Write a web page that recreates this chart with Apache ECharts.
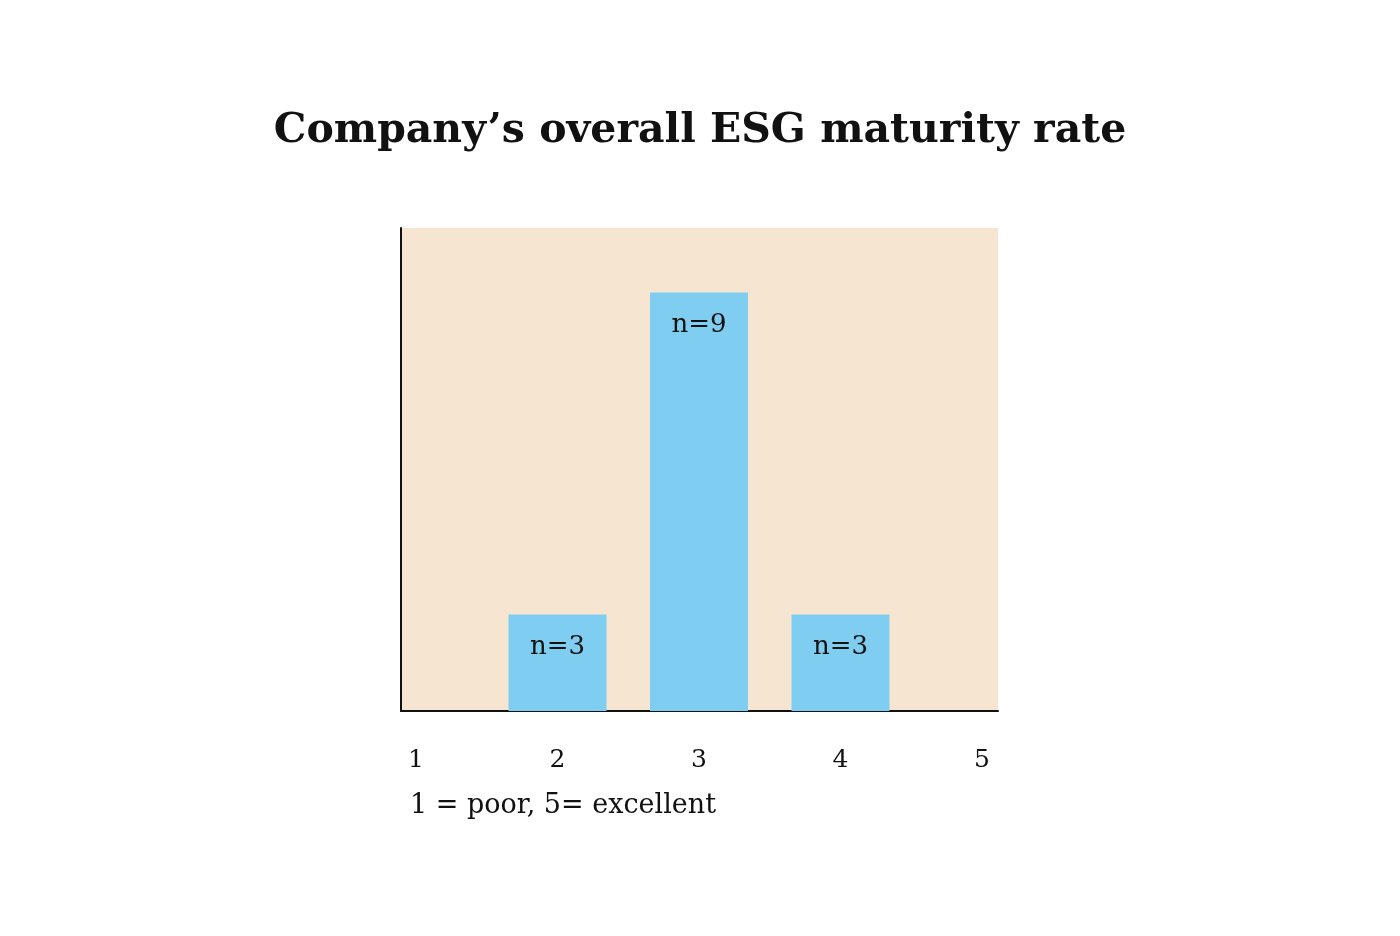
<!DOCTYPE html>
<html>
<head>
<meta charset="utf-8">
<script src="https://cdn.jsdelivr.net/npm/echarts@6/dist/echarts.min.js"></script>
<style>html,body{margin:0;padding:0;background:#fff}#c{width:1400px;height:936px}</style>
</head>
<body>
<div id="c"></div>
<script>
const titleText = "Company’s overall ESG maturity rate";
const noteText = "1 = poor, 5= excellent";
const ratings = [1, 2, 3, 4, 5];
const counts = [0, 3, 9, 3, 0];
const tickLabels = ["1", "2", "3", "4", "5"];

const font = "DejaVu Serif";
const chart = echarts.init(document.getElementById('c'), null, {renderer: 'canvas'});
chart.setOption({
  backgroundColor: '#ffffff',
  animation: false,
  title: [
    {text: titleText, left: 'center', top: 106,
     textStyle: {fontFamily: font, fontWeight: 'bold', fontSize: 41, color: '#111'}},
    {text: noteText, left: 405, top: 787,
     textStyle: {fontFamily: font, fontWeight: 'normal', fontSize: 27, color: '#111'}}
  ],
  grid: {left: 401, right: 402, top: 228, bottom: 225, show: true,
         backgroundColor: '#F6E6D1', borderWidth: 0},
  xAxis: {
    type: 'value', min: 0.894, max: 5.113,
    axisLine: {show: true, onZero: false, lineStyle: {color: '#111', width: 2}},
    axisTick: {show: false},
    splitLine: {show: false},
    axisLabel: {customValues: ratings, margin: 37,
      formatter: v => tickLabels[ratings.indexOf(v)] ?? '',
      fontFamily: font, fontSize: 25, color: '#111'}
  },
  yAxis: {
    type: 'value', min: 1.2, max: 10.2,
    axisLine: {show: true, onZero: false, lineStyle: {color: '#111', width: 2}},
    axisTick: {show: false}, axisLabel: {show: false}, splitLine: {show: false}
  },
  series: [{
    type: 'bar', clip: true, barWidth: 98,
    data: ratings.map((r, i) => [r, counts[i]]),
    itemStyle: {color: '#7FCDF1'},
    label: {show: true, position: 'insideTop', distance: 20,
      formatter: p => p.value[1] > 0 ? 'n=' + p.value[1] : '',
      fontFamily: font, fontSize: 26, color: '#111'}
  }]
});
</script>
</body>
</html>
